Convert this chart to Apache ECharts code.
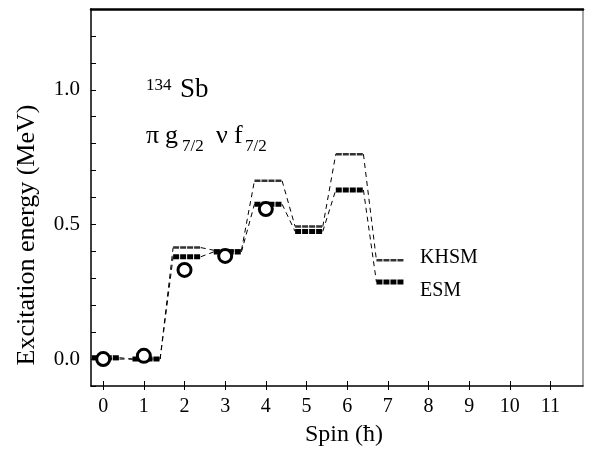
<!DOCTYPE html>
<html>
<head>
<meta charset="utf-8">
<script src="https://cdn.jsdelivr.net/npm/echarts@6/dist/echarts.min.js"></script>
<style>
  html, body { margin: 0; padding: 0; background: #fff; }
  #main { width: 589px; height: 450px; }
</style>
</head>
<body>
<div id="main"></div>
<script>
// level scheme data
var spins = [0, 1, 2, 3, 4, 5, 6, 7];
var khsm = [0.0, 0.0, 0.414, 0.404, 0.662, 0.492, 0.761, 0.367];
var esm = [0.005, 0.0, 0.38, 0.398, 0.575, 0.474, 0.628, 0.286];
var expSpins = [0, 1, 2, 3, 4];
var expEnergy = [0.0, 0.012, 0.331, 0.383, 0.557];
var xTicks = [0, 1, 2, 3, 4, 5, 6, 7, 8, 9, 10, 11];
var yLabels = [0, 0.5, 1.0];
var yTicks = [-0.1, 0, 0.1, 0.2, 0.3, 0.4, 0.5, 0.6, 0.7, 0.8, 0.9, 1.0, 1.1, 1.2, 1.3];

var FONT = 'Liberation Serif';
var LEFT = 0.28, RIGHT = 0.4;   // level bar extent around each spin

var myChart = echarts.init(document.getElementById('main'));

function levelData(vals) {
  return spins.map(function (s, i) { return [s, vals[i]]; });
}
function linkData(vals) {
  var out = [];
  for (var i = 0; i < spins.length - 1; i++) {
    out.push([spins[i], vals[i], vals[i + 1]]);
  }
  return out;
}
function levelSeries(vals, stroke, width, dash) {
  return {
    type: 'custom',
    clip: true,
    z: 3,
    data: levelData(vals),
    renderItem: function (params, api) {
      var s = api.value(0), e = api.value(1);
      var p1 = api.coord([s - LEFT, e]);
      var p2 = api.coord([s + RIGHT, e]);
      return {
        type: 'line',
        shape: { x1: p1[0], y1: p1[1], x2: p2[0], y2: p2[1] },
        style: { stroke: stroke, lineWidth: width, lineDash: dash, lineCap: 'butt' }
      };
    }
  };
}
function linkSeries(vals) {
  return {
    type: 'custom',
    clip: true,
    z: 2,
    data: linkData(vals),
    renderItem: function (params, api) {
      var s = api.value(0);
      var p1 = api.coord([s + RIGHT, api.value(1)]);
      var p2 = api.coord([s + 1 - LEFT, api.value(2)]);
      return {
        type: 'line',
        shape: { x1: p1[0], y1: p1[1], x2: p2[0], y2: p2[1] },
        style: { stroke: '#000', lineWidth: 1, lineDash: [5, 4] }
      };
    }
  };
}

function txt(x, y, str, size, rot, align) {
  return {
    type: 'text', x: x, y: y, rotation: rot || 0,
    style: {
      text: str, fontFamily: FONT, fontSize: size, fill: '#000',
      align: align || 'left', verticalAlign: 'middle'
    }
  };
}

var option = {
  animation: false,
  backgroundColor: '#fff',
  grid: { left: 91, right: 6, top: 9, bottom: 64 },
  xAxis: [
    {
      type: 'value', min: -0.3, max: 11.8, position: 'bottom',
      axisLine: { onZero: false, lineStyle: { color: '#000', width: 1.5 } },
      axisTick: { inside: true, length: 5, customValues: xTicks, lineStyle: { color: '#000' } },
      axisLabel: { customValues: xTicks, margin: 11, fontFamily: FONT, fontSize: 20, color: '#000' },
      splitLine: { show: false }
    },
    {
      type: 'value', min: -0.3, max: 11.8, position: 'bottom',
      axisLine: { show: false, onZero: false },
      axisTick: { inside: false, length: 4, customValues: xTicks, lineStyle: { color: '#000' } },
      axisLabel: { show: false },
      splitLine: { show: false }
    },
    {
      type: 'value', min: -0.3, max: 11.8, position: 'top',
      axisLine: { onZero: false, lineStyle: { color: '#000', width: 2.5 } },
      axisTick: { show: false },
      axisLabel: { show: false },
      splitLine: { show: false }
    }
  ],
  yAxis: [
    {
      type: 'value', min: -0.1, max: 1.3, position: 'left',
      axisLine: { show: true, onZero: false, lineStyle: { color: '#000', width: 1.5 } },
      axisTick: { show: true, inside: true, length: 5, customValues: yTicks, lineStyle: { color: '#000' } },
      axisLabel: {
        customValues: yLabels, margin: 11, fontFamily: FONT, fontSize: 21, color: '#000',
        formatter: function (v) { return v.toFixed(1); }
      },
      splitLine: { show: false }
    },
    {
      type: 'value', min: -0.1, max: 1.3, position: 'right',
      axisLine: { show: true, onZero: false, lineStyle: { color: '#888', width: 1.5 } },
      axisTick: { show: false },
      axisLabel: { show: false },
      splitLine: { show: false }
    }
  ],
  graphic: [
    txt(27, 235, 'Excitation energy (MeV)', 26, Math.PI / 2, 'center'),
    txt(344, 435, 'Spin (ħ)', 24, 0, 'center'),
    txt(146, 86, '134', 17),
    txt(180, 90, 'Sb', 27),
    txt(146, 136, 'π', 26),
    txt(165, 136, 'g', 26),
    txt(182, 147, '7/2', 17),
    txt(216, 136, 'ν', 26),
    txt(234, 136, 'f', 26),
    txt(245, 147, '7/2', 17),
    txt(420, 258, 'KHSM', 20),
    txt(420, 291, 'ESM', 20)
  ],
  series: [
    linkSeries(khsm),
    linkSeries(esm),
    levelSeries(khsm, '#333', 2.5, [6, 1]),
    levelSeries(esm, '#000', 5, [6, 1]),
    {
      type: 'scatter',
      z: 5,
      symbol: 'circle',
      symbolSize: 13,
      itemStyle: { color: '#fff', borderColor: '#000', borderWidth: 3, opacity: 1 },
      data: expSpins.map(function (s, i) { return [s, expEnergy[i]]; })
    }
  ]
};
myChart.setOption(option);
</script>
</body>
</html>
